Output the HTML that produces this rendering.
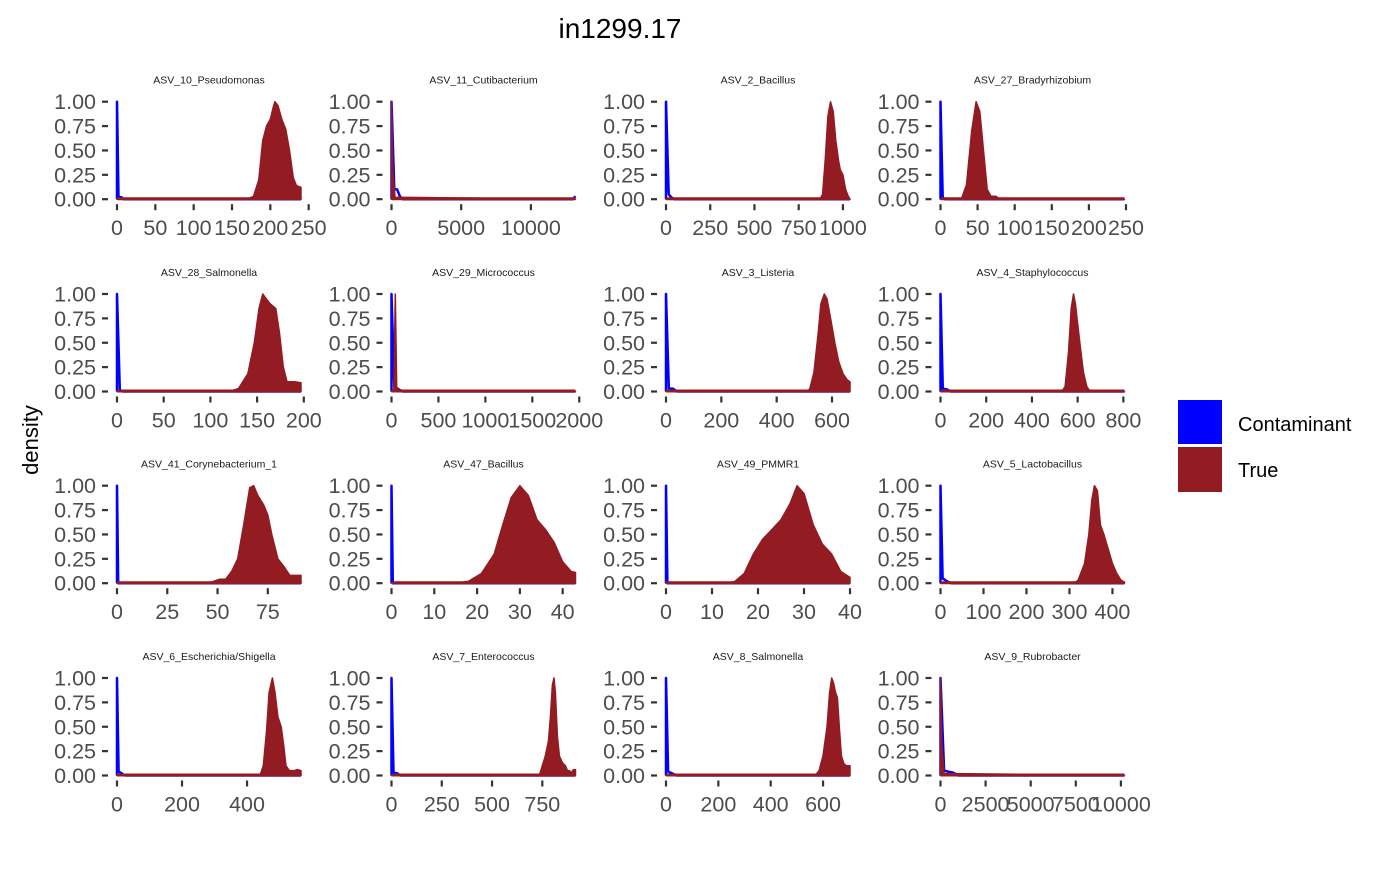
<!DOCTYPE html>
<html><head><meta charset="utf-8"><style>
html,body{margin:0;padding:0;background:#fff;}
svg text{font-family:"Liberation Sans",Arial,sans-serif;}
</style></head><body>
<svg id="chart" width="1400" height="865" xmlns="http://www.w3.org/2000/svg">
<text x="620" y="38" font-size="28" text-anchor="middle" fill="#000">in1299.17</text>
<text transform="translate(38,440) rotate(-90)" font-size="22" text-anchor="middle" fill="#000">density</text>
<g>
<rect x="1178" y="400" width="44" height="44" fill="#0000ff"/>
<rect x="1178" y="447" width="44" height="45" fill="#931b22"/>
<text x="1238" y="431" font-size="20" fill="#000">Contaminant</text>
<text x="1238" y="477" font-size="20" fill="#000">True</text>
</g>
<g id="panels"></g>
</svg>
<script>
const panelNames = ["ASV_10_Pseudomonas","ASV_11_Cutibacterium","ASV_2_Bacillus","ASV_27_Bradyrhizobium",
"ASV_28_Salmonella","ASV_29_Micrococcus","ASV_3_Listeria","ASV_4_Staphylococcus",
"ASV_41_Corynebacterium_1","ASV_47_Bacillus","ASV_49_PMMR1","ASV_5_Lactobacillus",
"ASV_6_Escherichia/Shigella","ASV_7_Enterococcus","ASV_8_Salmonella","ASV_9_Rubrobacter"];
const panelXMax = [240,13200,1040,248,197,1960,665,805,91.5,43,40,428,566,915,703,10200];
const panelTicks = [[0,50,100,150,200,250],[0,5000,10000],[0,250,500,750,1000],[0,50,100,150,200,250],
[0,50,100,150,200],[0,500,1000,1500,2000],[0,200,400,600],[0,200,400,600,800],
[0,25,50,75],[0,10,20,30,40],[0,10,20,30,40],[0,100,200,300,400],
[0,200,400],[0,250,500,750],[0,200,400,600],[0,2500,5000,7500,10000]];
const yTicks = [0,0.25,0.5,0.75,1];
const yTickLabels = ["0.00","0.25","0.50","0.75","1.00"];
const trueCurves = [
[[0,0],[170,0],[178,0.03],[185,0.2],[190,0.6],[195,0.75],[200,0.82],[204,0.95],[206,1.0],[210,0.96],[215,0.82],[220,0.72],[225,0.5],[230,0.22],[234,0.14],[240,0.12]],
[[0,1],[100,0.3],[250,0.02],[13200,0]],
[[0,0],[870,0],[885,0.05],[900,0.4],[915,0.85],[930,1.0],[945,0.9],[960,0.6],[975,0.4],[985,0.3],[1000,0.25],[1015,0.1],[1030,0.03],[1040,0]],
[[0,0],[28,0],[35,0.15],[42,0.7],[48,1.0],[53,0.9],[58,0.5],[63,0.1],[68,0.03],[75,0.03],[80,0],[248,0]],
[[0,0],[120,0],[130,0.03],[140,0.18],[147,0.5],[152,0.85],[156,1.0],[160,0.95],[164,0.9],[170,0.85],[174,0.6],[178,0.25],[182,0.1],[190,0.1],[197,0.09]],
[[0,0],[25,0],[40,1.0],[55,0.05],[75,0],[1960,0]],
[[0,0],[510,0],[520,0.03],[535,0.2],[550,0.6],[560,0.9],[572,1.0],[582,0.95],[595,0.75],[610,0.5],[625,0.3],[640,0.18],[655,0.12],[665,0.1]],
[[0,0],[530,0],[545,0.05],[560,0.4],[572,0.85],[582,1.0],[590,0.9],[600,0.7],[612,0.45],[625,0.2],[640,0.05],[655,0],[805,0]],
[[0,0],[45,0],[48,0.02],[51,0.04],[54,0.04],[57,0.12],[60,0.25],[63,0.6],[66,0.98],[68,1.0],[70,0.9],[73,0.8],[75,0.7],[77,0.5],[80,0.25],[83,0.17],[86,0.08],[88,0.08],[91.5,0.08]],
[[0,0],[15,0],[18,0.02],[21,0.1],[24,0.3],[26,0.6],[28,0.88],[30,1.0],[32,0.9],[34,0.65],[36,0.55],[38,0.42],[40,0.22],[42,0.12],[43,0.11]],
[[0,0],[13,0],[15,0.02],[17,0.1],[19,0.3],[21,0.45],[23,0.55],[25,0.65],[27,0.82],[28.5,1.0],[30,0.92],[32,0.6],[34,0.4],[36,0.3],[38,0.12],[40,0.06]],
[[0,0],[310,0],[320,0.03],[335,0.2],[345,0.5],[352,0.85],[358,1.0],[365,0.95],[372,0.6],[380,0.5],[390,0.35],[400,0.2],[410,0.1],[420,0.03],[428,0.01]],
[[0,0],[440,0],[450,0.1],[460,0.45],[468,0.85],[478,1.0],[486,0.85],[495,0.6],[505,0.5],[513,0.3],[520,0.1],[530,0.05],[545,0.05],[555,0.06],[566,0.05]],
[[0,0],[735,0],[750,0.1],[765,0.2],[780,0.35],[790,0.6],[800,0.93],[808,1.0],[815,0.85],[825,0.4],[835,0.2],[850,0.13],[865,0.1],[875,0.05],[885,0.05],[895,0.03],[905,0.06],[915,0.06]],
[[0,0],[570,0],[585,0.05],[600,0.2],[615,0.5],[625,0.85],[633,1.0],[640,0.95],[648,0.85],[655,0.8],[662,0.5],[670,0.2],[680,0.12],[690,0.1],[703,0.1]],
[[0,1],[80,0.3],[200,0.02],[10200,0]]
];
const contCurves = [
[[0,1],[2,0.02],[6,0.02],[8,0],[240,0]],
[[0,1],[200,0.1],[400,0.1],[600,0.03],[800,0],[13000,0],[13200,0.03]],
[[0,1],[15,0.05],[30,0.02],[45,0],[1040,0]],
[[0,1],[3,0.02],[6,0],[248,0]],
[[0,1],[3,0.02],[6,0],[197,0]],
[[0,1],[30,0.05],[80,0.02],[120,0],[1960,0]],
[[0,1],[10,0.03],[25,0.03],[40,0],[665,0]],
[[0,1],[10,0.03],[30,0.02],[45,0],[805,0]],
[[0,1],[0.6,0],[91.5,0]],
[[0,1],[0.3,0],[43,0]],
[[0,1],[0.3,0],[40,0]],
[[0,1],[5,0.05],[15,0.02],[25,0],[428,0]],
[[0,1],[5,0.04],[15,0.02],[25,0],[566,0]],
[[0,1],[10,0.03],[30,0.02],[45,0],[915,0]],
[[0,1],[8,0.04],[25,0.02],[40,0],[703,0]],
[[0,1],[200,0.05],[400,0.04],[700,0.03],[1000,0],[10200,0]]
];
const NS="http://www.w3.org/2000/svg";
const root=document.getElementById('panels');
const colLeft=[117,391.5,666,940.5], plotW=184;
const rowTop=[101.7,294,485.7,678], plotH=97.5;
function mk(tag,attrs,parent){const e=document.createElementNS(NS,tag);for(const k in attrs)e.setAttribute(k,attrs[k]);parent.appendChild(e);return e;}
panelNames.forEach((name,i)=>{
  const r=Math.floor(i/4), c=i%4;
  const L=colLeft[c], T=rowTop[r], B=T+plotH;
  const xs=v=>L+v/panelXMax[i]*plotW;
  const ys=v=>B-v*plotH;
  const g=mk('g',{},root);
  
  
  const st=mk('text',{x:L+plotW/2,y:T-18,'font-size':'10.5','text-anchor':'middle',fill:'#1a1a1a'},g);
  st.textContent=name;
  
  
  yTicks.forEach((v,k)=>{
    const tl=mk('line',{x1:L-15,x2:L-9,y1:ys(v),y2:ys(v),stroke:'#333','stroke-width':2.2},g);
    
    
    const t=mk('text',{x:L-21,y:ys(v)+7.5,'font-size':'21.5','text-anchor':'end',fill:'#4d4d4d'},g);
    t.textContent=yTickLabels[k];
    
    
  });
  panelTicks[i].forEach(v=>{
    const tl=mk('line',{x1:xs(v),x2:xs(v),y1:B+5,y2:B+11,stroke:'#333','stroke-width':2.2},g);
    
    
    const t=mk('text',{x:xs(v),y:B+36,'font-size':'21.5','text-anchor':'middle',fill:'#4d4d4d'},g);
    t.textContent=String(v);
    
    
  });
  const cont=contCurves[i];
  let cd='M'+xs(0)+','+B+' '+cont.map(p=>'L'+xs(p[0]).toFixed(1)+','+ys(p[1]).toFixed(1)).join(' ');
  const cp=mk('path',{d:cd,fill:'none',stroke:'#0000ff','stroke-width':2.5,'stroke-linejoin':'round'},g);
  
  
  const tc=trueCurves[i];
  let td='M'+xs(tc[0][0]).toFixed(1)+','+B+' '+tc.map(p=>'L'+xs(p[0]).toFixed(1)+','+ys(p[1]).toFixed(1)).join(' ')+' L'+xs(tc[tc.length-1][0]).toFixed(1)+','+B+' Z';
  const tp=mk('path',{d:td,fill:'#931b22',stroke:'#931b22','stroke-width':1.5,'stroke-linejoin':'round'},g);
  
  
  const bl=mk('line',{x1:L,x2:L+plotW,y1:B-0.5,y2:B-0.5,stroke:'#931b22','stroke-width':3},g);
  
  
});
</script>
</body></html>
